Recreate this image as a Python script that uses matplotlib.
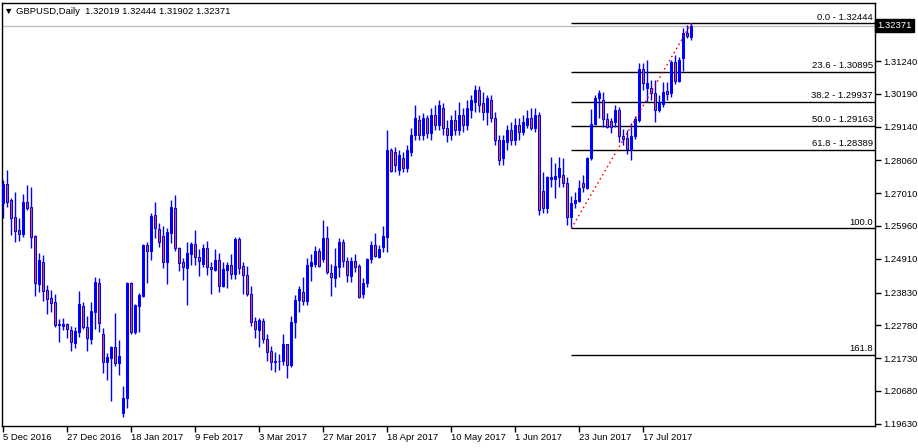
import matplotlib
matplotlib.use('Agg')
import matplotlib.pyplot as plt
import numpy as np
import pandas as pd

plt.rcParams['font.family'] = ['Liberation Sans', 'DejaVu Sans']

# GBPUSD daily candles, 5 Dec 2016 .. 2 Aug 2017
dates = pd.bdate_range('2016-12-05', periods=173)

opens = [
    1.2670, 1.2730, 1.2679, 1.2625, 1.2583, 1.2570, 1.2673, 1.2657, 1.2564, 1.2410,
    1.2481, 1.2391, 1.2366, 1.2353, 1.2282, 1.2276, 1.2282, 1.2263, 1.2222, 1.2257,
    1.2340, 1.2273, 1.2234, 1.2321, 1.2414, 1.2250, 1.2161, 1.2174, 1.2209, 1.2158,
    1.1998, 1.2046, 1.2414, 1.2257, 1.2340, 1.2372, 1.2535, 1.2516, 1.2631, 1.2586,
    1.2564, 1.2481, 1.2574, 1.2654, 1.2526, 1.2481, 1.2462, 1.2506, 1.2538, 1.2497,
    1.2474, 1.2526, 1.2465, 1.2455, 1.2487, 1.2404, 1.2455, 1.2471, 1.2442, 1.2554,
    1.2468, 1.2439, 1.2378, 1.2292, 1.2263, 1.2292, 1.2234, 1.2196, 1.2164, 1.2163,
    1.2164, 1.2218, 1.2151, 1.2289, 1.2359, 1.2385, 1.2356, 1.2468, 1.2474, 1.2516,
    1.2490, 1.2558, 1.2446, 1.2430, 1.2465, 1.2545, 1.2484, 1.2436, 1.2484, 1.2468,
    1.2378, 1.2414, 1.2490, 1.2535, 1.2497, 1.2529, 1.2561, 1.2839, 1.2833, 1.2775,
    1.2814, 1.2782, 1.2833, 1.2887, 1.2935, 1.2887, 1.2942, 1.2894, 1.2951, 1.2919,
    1.2974, 1.2910, 1.2887, 1.2935, 1.2903, 1.2951, 1.2919, 1.2967, 1.2993, 1.3031,
    1.2990, 1.2961, 1.2999, 1.2942, 1.2871, 1.2814, 1.2865, 1.2903, 1.2871, 1.2919,
    1.2897, 1.2919, 1.2942, 1.2910, 1.2951, 1.2708, 1.2654, 1.2746, 1.2746, 1.2753,
    1.2759, 1.2734, 1.2625, 1.2670, 1.2676, 1.2734, 1.2718, 1.2814, 1.2922, 1.3006,
    1.2999, 1.2938, 1.2932, 1.2929, 1.2967, 1.2884, 1.2878, 1.2842, 1.2884, 1.2935,
    1.3098, 1.3038, 1.3038, 1.3022, 1.2967, 1.2986, 1.3028, 1.3022, 1.3121, 1.3060,
    1.3134, 1.3214, 1.32019]

highs = [
    1.2743, 1.2775, 1.2686, 1.2705, 1.2622, 1.2698, 1.2727, 1.2721, 1.2567, 1.2510,
    1.2503, 1.2407, 1.2391, 1.2378, 1.2298, 1.2302, 1.2286, 1.2276, 1.2273, 1.2388,
    1.2353, 1.2308, 1.2353, 1.2433, 1.2430, 1.2270, 1.2190, 1.2212, 1.2318, 1.2231,
    1.2084, 1.2417, 1.2417, 1.2345, 1.2382, 1.2538, 1.2545, 1.2638, 1.2673, 1.2606,
    1.2596, 1.2590, 1.2679, 1.2695, 1.2529, 1.2494, 1.2545, 1.2545, 1.2583, 1.2522,
    1.2538, 1.2548, 1.2481, 1.2522, 1.2510, 1.2481, 1.2481, 1.2506, 1.2561, 1.2561,
    1.2481, 1.2468, 1.2404, 1.2305, 1.2302, 1.2302, 1.2250, 1.2212, 1.2193, 1.2186,
    1.2250, 1.2220, 1.2308, 1.2375, 1.2404, 1.2433, 1.2494, 1.2506, 1.2532, 1.2526,
    1.2615, 1.2596, 1.2474, 1.2526, 1.2558, 1.2554, 1.2497, 1.2497, 1.2506, 1.2474,
    1.2430, 1.2494, 1.2548, 1.2574, 1.2535, 1.2596, 1.2903, 1.2846, 1.2849, 1.2839,
    1.2833, 1.2855, 1.2910, 1.2983, 1.2951, 1.2958, 1.2951, 1.2974, 1.2983, 1.2999,
    1.2990, 1.2935, 1.2951, 1.2967, 1.2993, 1.2974, 1.2999, 1.3015, 1.3047, 1.3044,
    1.3025, 1.3015, 1.3015, 1.2961, 1.2887, 1.2887, 1.2919, 1.2929, 1.2942, 1.2942,
    1.2951, 1.2967, 1.2974, 1.2974, 1.2961, 1.2769, 1.2756, 1.2817, 1.2798, 1.2817,
    1.2814, 1.2753, 1.2692, 1.2705, 1.2743, 1.2759, 1.2816, 1.2970, 1.3015, 1.3031,
    1.3025, 1.2958, 1.2942, 1.2983, 1.2977, 1.2906, 1.2903, 1.2926, 1.2948, 1.3118,
    1.3118, 1.3127, 1.3063, 1.3063, 1.3015, 1.3057, 1.3057, 1.3127, 1.3143, 1.3137,
    1.3230, 1.3240, 1.32444]

lows = [
    1.2622, 1.2657, 1.2567, 1.2545, 1.2548, 1.2561, 1.2647, 1.2526, 1.2372, 1.2385,
    1.2356, 1.2314, 1.2321, 1.2273, 1.2225, 1.2263, 1.2238, 1.2196, 1.2206, 1.2241,
    1.2266, 1.2196, 1.2218, 1.2266, 1.2257, 1.2126, 1.2103, 1.2036, 1.2148, 1.2119,
    1.1985, 1.2014, 1.2250, 1.2250, 1.2257, 1.2370, 1.2414, 1.2487, 1.2558, 1.2529,
    1.2462, 1.2410, 1.2542, 1.2516, 1.2452, 1.2423, 1.2343, 1.2471, 1.2471, 1.2436,
    1.2465, 1.2439, 1.2378, 1.2452, 1.2385, 1.2401, 1.2398, 1.2426, 1.2426, 1.2442,
    1.2378, 1.2372, 1.2276, 1.2238, 1.2209, 1.2222, 1.2164, 1.2135, 1.2129, 1.2135,
    1.2151, 1.2110, 1.2145, 1.2238, 1.2321, 1.2343, 1.2343, 1.2420, 1.2465, 1.2465,
    1.2481, 1.2442, 1.2372, 1.2401, 1.2433, 1.2465, 1.2417, 1.2417, 1.2449, 1.2366,
    1.2366, 1.2401, 1.2478, 1.2497, 1.2495, 1.2513, 1.2513, 1.2769, 1.2769, 1.2759,
    1.2769, 1.2769, 1.2820, 1.2871, 1.2871, 1.2871, 1.2878, 1.2871, 1.2903, 1.2903,
    1.2887, 1.2865, 1.2871, 1.2887, 1.2887, 1.2897, 1.2903, 1.2942, 1.2961, 1.2961,
    1.2935, 1.2919, 1.2929, 1.2855, 1.2791, 1.2791, 1.2839, 1.2855, 1.2855, 1.2871,
    1.2887, 1.2910, 1.2903, 1.2897, 1.2631, 1.2638, 1.2638, 1.2721, 1.2686, 1.2721,
    1.2721, 1.2599, 1.25882, 1.2654, 1.2673, 1.2705, 1.2714, 1.2807, 1.2919, 1.2942,
    1.2913, 1.2911, 1.2894, 1.2913, 1.2865, 1.2855, 1.2826, 1.2807, 1.2874, 1.2929,
    1.3031, 1.2993, 1.2999, 1.2929, 1.2961, 1.2977, 1.2999, 1.3009, 1.3050, 1.3057,
    1.3092, 1.3199, 1.31902]

closes = [
    1.2730, 1.2673, 1.2622, 1.2580, 1.2570, 1.2673, 1.2654, 1.2561, 1.2414, 1.2487,
    1.2388, 1.2362, 1.2350, 1.2279, 1.2279, 1.2282, 1.2266, 1.2225, 1.2260, 1.2346,
    1.2273, 1.2238, 1.2324, 1.2417, 1.2286, 1.2161, 1.2177, 1.2209, 1.2158, 1.2180,
    1.2046, 1.2414, 1.2257, 1.2343, 1.2375, 1.2535, 1.2516, 1.2628, 1.2590, 1.2545,
    1.2481, 1.2577, 1.2657, 1.2526, 1.2478, 1.2465, 1.2510, 1.2538, 1.2497, 1.2484,
    1.2526, 1.2465, 1.2458, 1.2487, 1.2404, 1.2458, 1.2471, 1.2442, 1.2554, 1.2462,
    1.2439, 1.2378, 1.2289, 1.2266, 1.2295, 1.2234, 1.2193, 1.2161, 1.2162, 1.2165,
    1.2218, 1.2151, 1.2289, 1.2359, 1.2394, 1.2356, 1.2471, 1.2481, 1.2516, 1.2468,
    1.2558, 1.2449, 1.2433, 1.2468, 1.2545, 1.2484, 1.2439, 1.2484, 1.2465, 1.2369,
    1.2414, 1.2490, 1.2535, 1.2500, 1.2522, 1.2564, 1.2839, 1.2772, 1.2791, 1.2823,
    1.2782, 1.2839, 1.2887, 1.2942, 1.2887, 1.2942, 1.2894, 1.2951, 1.2919, 1.2983,
    1.2910, 1.2887, 1.2935, 1.2903, 1.2951, 1.2919, 1.2974, 1.2999, 1.3031, 1.2983,
    1.2961, 1.3006, 1.2942, 1.2871, 1.2807, 1.2871, 1.2903, 1.2871, 1.2919, 1.2897,
    1.2929, 1.2942, 1.2910, 1.2951, 1.2647, 1.2654, 1.2753, 1.2753, 1.2756, 1.2782,
    1.2734, 1.2625, 1.2670, 1.2679, 1.2718, 1.2721, 1.2814, 1.2922, 1.3006, 1.3022,
    1.2938, 1.2913, 1.2913, 1.2967, 1.2884, 1.2874, 1.2842, 1.2884, 1.2938, 1.3098,
    1.3054, 1.3054, 1.3022, 1.2967, 1.2993, 1.3025, 1.3018, 1.3121, 1.3060, 1.3127,
    1.3214, 1.3204, 1.32371]

# price scale labels as printed by the terminal
ytick_vals = [1.31240, 1.30190, 1.29140, 1.28060, 1.27010, 1.25960,
              1.24910, 1.23830, 1.22780, 1.21730, 1.20680, 1.19630]

fib_ratios = [0.0, 23.6, 38.2, 50.0, 61.8, 100.0, 161.8]
fib_from = 142   # swing low bar
fib_to = 172     # swing high bar

o = np.array(opens)
h = np.array(highs)
l = np.array(lows)
c = np.array(closes)
x = np.arange(len(o))
up = c >= o

fig = plt.figure(figsize=(9.18, 4.48), dpi=100)
ax = fig.add_axes([2 / 918, 22 / 448, 873 / 918, 423 / 448])

blue = '#0000FF'
orange = '#F0502A'

# wicks
ax.vlines(x, l, h, color=blue, lw=1, zorder=2)
# bodies
ax.bar(x[up], c[up] - o[up], bottom=o[up], width=0.55,
       color=blue, edgecolor=blue, lw=0.75, zorder=3)
ax.bar(x[~up], o[~up] - c[~up], bottom=c[~up], width=0.55,
       color=orange, edgecolor=blue, lw=0.75, zorder=3)

ax.set_xlim(-0.325, 217.925)
ax.set_ylim(1.1956, 1.33096)

# bid line
last = c[-1]
ax.axhline(last, color='#C0C0C0', lw=1, zorder=1)

# fibonacci retracement
hi = h[fib_to]
lo = l[fib_from]
for r in fib_ratios:
    lvl = hi - (hi - lo) * r / 100
    ax.hlines(lvl, fib_from, 217.925, color='black', lw=1, zorder=1)
    if r < 100:
        txt = f'{r:.1f} - {lvl:.5f}'
    else:
        txt = f'{r:.1f}'
    ax.text(217.4, lvl + 0.0006, txt, ha='right', va='bottom', fontsize=6.8,
            color='black')
ax.plot([fib_from, fib_to], [lo, hi], color='red', lw=1,
        ls=(0, (1.2, 2.2)), zorder=4)

# axes styling
for s in ax.spines.values():
    s.set_color('black')
    s.set_linewidth(1)
ax.yaxis.tick_right()
ax.set_yticks(ytick_vals)
ax.set_yticklabels([f'{v:.5f}' for v in ytick_vals])
ax.tick_params(axis='y', direction='out', length=4, width=1, pad=2,
               labelsize=6.8, colors='black')

xt = x[::16][:11]
ax.set_xticks(xt)
ax.set_xticklabels([f'{d.day} {d:%b %Y}' for d in dates[xt]], ha='left')
ax.tick_params(axis='x', direction='out', length=4, width=1, pad=1,
               labelsize=6.8)

# current price tag
ax.text(1.003, last, f'{last:.5f}', transform=ax.get_yaxis_transform(),
        ha='left', va='center', fontsize=6.8, color='white',
        bbox=dict(facecolor='black', edgecolor='black', pad=1.6))

fig.text(4 / 918, 1 - 11 / 448,
         f'\u25bc GBPUSD,Daily  {o[-1]:.5f} {h[-1]:.5f} {l[-1]:.5f} {c[-1]:.5f}',
         fontsize=6.8, va='center', ha='left')

fig.savefig('out.png', dpi=100, facecolor='white')
